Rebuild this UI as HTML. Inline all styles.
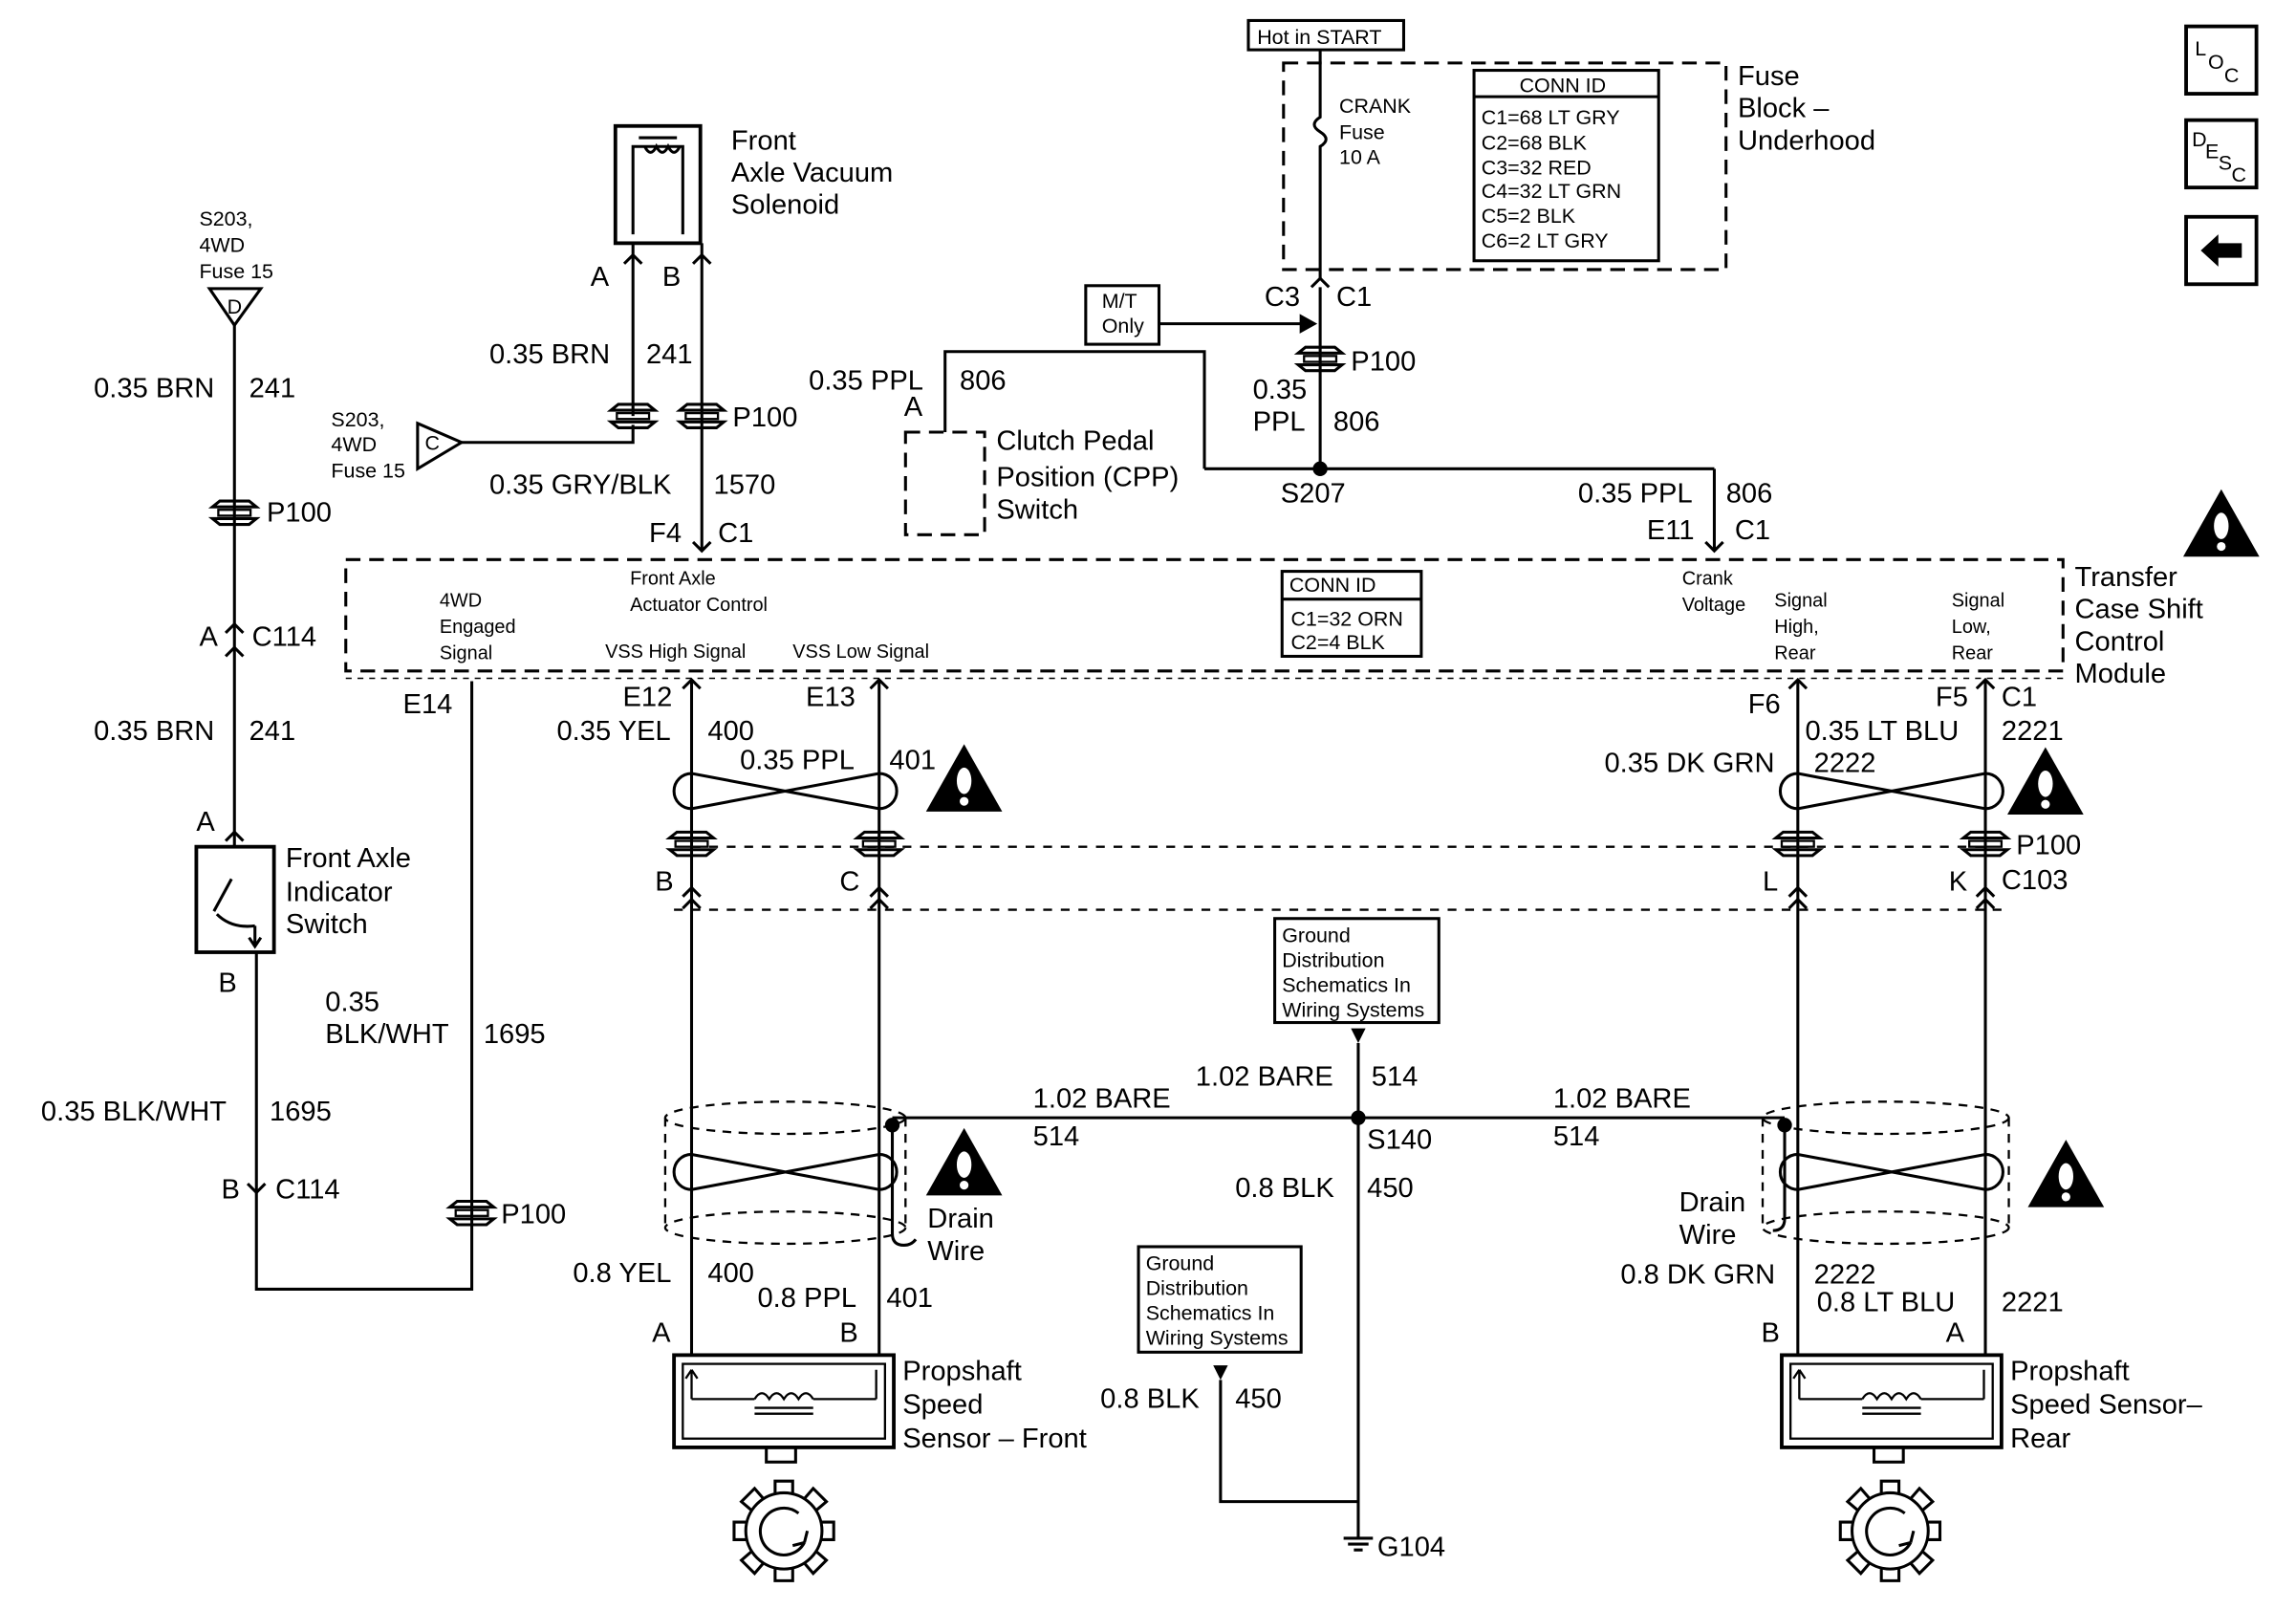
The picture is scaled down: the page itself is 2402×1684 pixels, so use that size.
<!DOCTYPE html>
<html><head><meta charset="utf-8"><style>
html,body{margin:0;padding:0;background:#fff;}
svg{display:block;}
text{font-family:"Liberation Sans",Arial,sans-serif;fill:#000;}
.m{font-size:19px;}
.s{font-size:14px;}
.xs{font-size:13px;}
</style></head><body>
<svg width="2402" height="1684" viewBox="0 0 1567 1099" preserveAspectRatio="none" xmlns="http://www.w3.org/2000/svg">
<defs>
<g id="conn"><path d="M-15,-4 L-10,-8 H10 L15,-4 H-15 Z M-15,4 L-10,8 H10 L15,4 H-15 Z" fill="none" stroke="#000" stroke-width="2"/><rect x="-11" y="-2" width="22" height="4" fill="none" stroke="#000" stroke-width="1.5"/></g>
<g id="twist"><path d="M-64,-12 L64,12 M-64,12 L64,-12 M-64,-12 A12,12 0 0 0 -64,12 M64,-12 A12,12 0 0 1 64,12" fill="none" stroke="#000" stroke-width="2"/></g>
<g id="warn"><path d="M26,0 L52,46 L0,46 Z" fill="#000"/><ellipse cx="26" cy="25" rx="5" ry="9" fill="#fff"/><circle cx="26" cy="39" r="3" fill="#fff"/></g>
<g id="gear"><circle r="26" fill="none" stroke="#000" stroke-width="2"/><path d="M-6,-26 V-34 H6 V-26 M-6,26 V34 H6 V26 M-26,-6 H-34 V6 H-26 M26,-6 H34 V6 H26 M-14,-22 L-20,-29 L-29,-20 L-22,-14 M14,-22 L20,-29 L29,-20 L22,-14 M-14,22 L-20,29 L-29,20 L-22,14 M14,22 L20,29 L29,20 L22,14" fill="none" stroke="#000" stroke-width="2"/><path d="M10,-12 A16,16 0 1 0 14,8" fill="none" stroke="#000" stroke-width="2"/><path d="M14,8 l-8,2 M14,8 l2,-8" stroke="#000" stroke-width="2"/></g>
<g id="sensor"><rect x="0" y="0" width="150" height="63" fill="none" stroke="#000" stroke-width="2.5"/><rect x="6" y="6" width="138" height="51" fill="none" stroke="#000" stroke-width="1.5"/><path d="M12,30 V10 M12,10 l-4,6 M12,10 l4,6 M138,30 V10 M12,30 H55 M95,30 H138 M55,30 q5,-8 10,0 q5,-8 10,0 q5,-8 10,0 q5,-8 10,0 M55,36 H95 M55,40 H95" fill="none" stroke="#000" stroke-width="1.5"/><rect x="63" y="63" width="20" height="10" fill="none" stroke="#000" stroke-width="2"/></g>
</defs>
<g stroke="#000" stroke-width="2" fill="none">
<rect x="852" y="14" width="106" height="20"/>
<rect x="876" y="43" width="302" height="141" stroke-dasharray="10,6"/>
<rect x="1006" y="48" width="126" height="130"/>
<line x1="1006" y1="66" x2="1132" y2="66"/>
<path d="M901,34 V80 q-8,5 0,10 q8,5 0,10 V190"/>
<path d="M895,196 L901,190 L907,196"/>
<line x1="901" y1="196" x2="901" y2="320"/>
<rect x="741" y="195" width="50" height="40"/>
<line x1="791" y1="221" x2="890" y2="221"/>
<path d="M888,216 L897,221 L888,226 Z" fill="#000"/>
<line x1="822" y1="320" x2="1170" y2="320"/>
<path d="M822,320 V240 H645 V295"/>
<line x1="1170" y1="320" x2="1170" y2="376"/>
<path d="M1164,370 L1170,376 L1176,370"/>
<rect x="618" y="295" width="54" height="70" stroke-dasharray="10,6"/>
<rect x="420" y="86" width="58" height="80" stroke-width="2.5"/>
<path d="M432,160 V100 H466 V160 M440,100 q4,8 8,0 q4,8 8,0 q4,8 8,0 M436,94 H462"/>
<path d="M432,166 V284 M479,166 V376 M426,180 L432,174 L438,180 M473,180 L479,174 L485,180"/>
<path d="M473,370 L479,376 L485,370"/>
<path d="M315,302 H432 V290"/>
<path d="M285,289 L315,302 L285,320 Z"/>
<path d="M143,197 H178 L160,222 Z"/>
<line x1="160" y1="222" x2="160" y2="578"/>
<path d="M154,432 L160,426 L166,432 M154,448 L160,442 L166,448 M154,574 L160,568 L166,574"/>
<rect x="134" y="578" width="53" height="72" stroke-width="2.5"/>
<path d="M146,622 L158,600 M148,624 q10,10 26,8 M174,632 V646 M170,640 L174,646 L178,640"/>
<path d="M175,650 V880 H322 V465"/>
<path d="M169,808 L175,814 L181,808"/>
<rect x="236" y="382" width="1172" height="76" stroke-dasharray="10,6"/>
<line x1="236" y1="463" x2="1408" y2="463" stroke-width="1" stroke-dasharray="4,4"/>
<rect x="875" y="390" width="95" height="58"/>
<line x1="875" y1="409" x2="970" y2="409"/>
<line x1="472" y1="465" x2="472" y2="925"/>
<line x1="600" y1="465" x2="600" y2="925"/>
<line x1="1227" y1="465" x2="1227" y2="925"/>
<line x1="1355" y1="465" x2="1355" y2="925"/>
<path d="M466,470 L472,464 L478,470 M594,470 L600,464 L606,470 M1221,470 L1227,464 L1233,470 M1349,470 L1355,464 L1361,470"/>
<path d="M466,612 L472,606 L478,612 M466,620 L472,614 L478,620 M594,612 L600,606 L606,612 M594,620 L600,614 L606,620 M1221,612 L1227,606 L1233,612 M1221,620 L1227,614 L1233,620 M1349,612 L1355,606 L1361,612 M1349,620 L1355,614 L1361,620"/>
<line x1="472" y1="578" x2="1355" y2="578" stroke-width="1.5" stroke-dasharray="6,6"/>
<line x1="460" y1="621" x2="1370" y2="621" stroke-width="1.5" stroke-dasharray="6,6"/>
<rect x="870" y="627" width="112" height="71"/>
<line x1="927" y1="712" x2="927" y2="1050"/>
<line x1="609" y1="763" x2="1218" y2="763"/>
<rect x="777" y="851" width="111" height="72"/>
<path d="M833,942 V1025 H927"/>
<path d="M917,1050 H937 M920,1054 H934 M924,1058 H930"/>
<g stroke-width="1.5" stroke-dasharray="6,5">
<ellipse cx="536" cy="763" rx="82" ry="11"/>
<ellipse cx="536" cy="838" rx="82" ry="11"/>
<line x1="454" y1="763" x2="454" y2="838"/>
<line x1="618" y1="763" x2="618" y2="838"/>
<ellipse cx="1287" cy="763" rx="84" ry="11"/>
<ellipse cx="1287" cy="838" rx="84" ry="11"/>
<line x1="1203" y1="763" x2="1203" y2="838"/>
<line x1="1371" y1="763" x2="1371" y2="838"/>
</g>
<path d="M609,768 V842 q0,8 8,8 q5,0 8,-4"/>
<path d="M1218,768 V832 q0,8 -8,8"/>
<rect x="1492" y="18" width="48" height="46" stroke-width="2.5"/>
<rect x="1492" y="82" width="48" height="46" stroke-width="2.5"/>
<rect x="1492" y="148" width="48" height="46" stroke-width="2.5"/>
</g>
<path d="M1502,171 L1514,160 V166 H1530 V176 H1514 V182 Z" fill="#000"/>
<path d="M833,942 L828,932 H838 Z M927,712 L922,702 H932 Z" fill="#000"/>
<circle cx="901" cy="320" r="5" fill="#000"/>
<circle cx="927" cy="763" r="5" fill="#000"/>
<circle cx="609" cy="768" r="5" fill="#000"/>
<circle cx="1218" cy="768" r="5" fill="#000"/>
<use href="#conn" x="901" y="245"/>
<use href="#conn" x="432" y="284"/>
<use href="#conn" x="479" y="284"/>
<use href="#conn" x="160" y="350"/>
<use href="#conn" x="322" y="828"/>
<use href="#conn" x="472" y="576"/>
<use href="#conn" x="600" y="576"/>
<use href="#conn" x="1227" y="576"/>
<use href="#conn" x="1355" y="576"/>
<use href="#twist" x="536" y="540"/>
<use href="#twist" x="1291" y="540"/>
<use href="#twist" x="536" y="800"/>
<use href="#twist" x="1291" y="800"/>
<use href="#warn" x="632" y="508"/>
<use href="#warn" x="1370" y="510"/>
<use href="#warn" x="1490" y="334"/>
<use href="#warn" x="632" y="770"/>
<use href="#warn" x="1384" y="778"/>
<use href="#sensor" x="460" y="925"/>
<use href="#sensor" x="1216" y="925"/>
<use href="#gear" x="535" y="1045"/>
<use href="#gear" x="1290" y="1045"/>
<text class="s" x="858" y="30">Hot in START</text>
<text class="s" x="1037" y="63">CONN ID</text>
<text class="s" x="1011" y="85">C1=68 LT GRY</text>
<text class="s" x="1011" y="102">C2=68 BLK</text>
<text class="s" x="1011" y="119">C3=32 RED</text>
<text class="s" x="1011" y="135">C4=32 LT GRN</text>
<text class="s" x="1011" y="152">C5=2 BLK</text>
<text class="s" x="1011" y="169">C6=2 LT GRY</text>
<text class="s" x="914" y="77">CRANK</text>
<text class="s" x="914" y="95">Fuse</text>
<text class="s" x="914" y="112">10 A</text>
<text class="m" x="1186" y="58">Fuse</text>
<text class="m" x="1186" y="80">Block –</text>
<text class="m" x="1186" y="102">Underhood</text>
<text class="m" x="863" y="209">C3</text>
<text class="m" x="912" y="209">C1</text>
<text class="s" x="752" y="210">M/T</text>
<text class="s" x="752" y="227">Only</text>
<text class="m" x="922" y="253">P100</text>
<text class="m" x="855" y="272">0.35</text>
<text class="m" x="855" y="294">PPL</text>
<text class="m" x="910" y="294">806</text>
<text class="m" x="874" y="343">S207</text>
<text class="m" x="552" y="266">0.35 PPL</text>
<text class="m" x="655" y="266">806</text>
<text class="m" x="617" y="284">A</text>
<text class="m" x="680" y="307">Clutch Pedal</text>
<text class="m" x="680" y="332">Position (CPP)</text>
<text class="m" x="680" y="354">Switch</text>
<text class="m" x="1077" y="343">0.35 PPL</text>
<text class="m" x="1178" y="343">806</text>
<text class="m" x="1124" y="368">E11</text>
<text class="m" x="1184" y="368">C1</text>
<text class="m" x="499" y="102">Front</text>
<text class="m" x="499" y="124">Axle Vacuum</text>
<text class="m" x="499" y="146">Solenoid</text>
<text class="m" x="403" y="195">A</text>
<text class="m" x="452" y="195">B</text>
<text class="m" x="334" y="248">0.35 BRN</text>
<text class="m" x="441" y="248">241</text>
<text class="m" x="500" y="291">P100</text>
<text class="s" x="226" y="291">S203,</text>
<text class="s" x="226" y="308">4WD</text>
<text class="s" x="226" y="326">Fuse 15</text>
<text class="s" x="290" y="307">C</text>
<text class="m" x="334" y="337">0.35 GRY/BLK</text>
<text class="m" x="487" y="337">1570</text>
<text class="m" x="443" y="370">F4</text>
<text class="m" x="490" y="370">C1</text>
<text class="s" x="136" y="154">S203,</text>
<text class="s" x="136" y="172">4WD</text>
<text class="s" x="136" y="190">Fuse 15</text>
<text class="s" x="155" y="214">D</text>
<text class="m" x="64" y="271">0.35 BRN</text>
<text class="m" x="170" y="271">241</text>
<text class="m" x="182" y="356">P100</text>
<text class="m" x="136" y="441">A</text>
<text class="m" x="172" y="441">C114</text>
<text class="m" x="64" y="505">0.35 BRN</text>
<text class="m" x="170" y="505">241</text>
<text class="m" x="134" y="567">A</text>
<text class="m" x="195" y="592">Front Axle</text>
<text class="m" x="195" y="615">Indicator</text>
<text class="m" x="195" y="637">Switch</text>
<text class="m" x="149" y="677">B</text>
<text class="m" x="222" y="690">0.35</text>
<text class="m" x="222" y="712">BLK/WHT</text>
<text class="m" x="330" y="712">1695</text>
<text class="m" x="28" y="765">0.35 BLK/WHT</text>
<text class="m" x="184" y="765">1695</text>
<text class="m" x="151" y="818">B</text>
<text class="m" x="188" y="818">C114</text>
<text class="m" x="342" y="835">P100</text>
<text class="xs" x="300" y="414">4WD</text>
<text class="xs" x="300" y="432">Engaged</text>
<text class="xs" x="300" y="450">Signal</text>
<text class="xs" x="430" y="399">Front Axle</text>
<text class="xs" x="430" y="417">Actuator Control</text>
<text class="xs" x="413" y="449">VSS High Signal</text>
<text class="xs" x="541" y="449">VSS Low Signal</text>
<text class="s" x="880" y="404">CONN ID</text>
<text class="s" x="881" y="427">C1=32 ORN</text>
<text class="s" x="881" y="443">C2=4 BLK</text>
<text class="xs" x="1148" y="399">Crank</text>
<text class="xs" x="1148" y="417">Voltage</text>
<text class="xs" x="1211" y="414">Signal</text>
<text class="xs" x="1211" y="432">High,</text>
<text class="xs" x="1211" y="450">Rear</text>
<text class="xs" x="1332" y="414">Signal</text>
<text class="xs" x="1332" y="432">Low,</text>
<text class="xs" x="1332" y="450">Rear</text>
<text class="m" x="1416" y="400">Transfer</text>
<text class="m" x="1416" y="422">Case Shift</text>
<text class="m" x="1416" y="444">Control</text>
<text class="m" x="1416" y="466">Module</text>
<text class="m" x="275" y="487">E14</text>
<text class="m" x="425" y="482">E12</text>
<text class="m" x="550" y="482">E13</text>
<text class="m" x="380" y="505">0.35 YEL</text>
<text class="m" x="483" y="505">400</text>
<text class="m" x="505" y="525">0.35 PPL</text>
<text class="m" x="607" y="525">401</text>
<text class="m" x="1193" y="487">F6</text>
<text class="m" x="1321" y="482">F5</text>
<text class="m" x="1366" y="482">C1</text>
<text class="m" x="1232" y="505">0.35 LT BLU</text>
<text class="m" x="1366" y="505">2221</text>
<text class="m" x="1095" y="527">0.35 DK GRN</text>
<text class="m" x="1238" y="527">2222</text>
<text class="m" x="1376" y="583">P100</text>
<text class="m" x="1366" y="607">C103</text>
<text class="m" x="447" y="608">B</text>
<text class="m" x="573" y="608">C</text>
<text class="m" x="1203" y="608">L</text>
<text class="m" x="1330" y="608">K</text>
<text class="s" x="875" y="643">Ground</text>
<text class="s" x="875" y="660">Distribution</text>
<text class="s" x="875" y="677">Schematics In</text>
<text class="s" x="875" y="694">Wiring Systems</text>
<text class="m" x="816" y="741">1.02 BARE</text>
<text class="m" x="936" y="741">514</text>
<text class="m" x="705" y="756">1.02 BARE</text>
<text class="m" x="705" y="782">514</text>
<text class="m" x="933" y="784">S140</text>
<text class="m" x="1060" y="756">1.02 BARE</text>
<text class="m" x="1060" y="782">514</text>
<text class="m" x="843" y="817">0.8 BLK</text>
<text class="m" x="933" y="817">450</text>
<text class="m" x="633" y="838">Drain</text>
<text class="m" x="633" y="860">Wire</text>
<text class="m" x="1146" y="827">Drain</text>
<text class="m" x="1146" y="849">Wire</text>
<text class="m" x="391" y="875">0.8 YEL</text>
<text class="m" x="483" y="875">400</text>
<text class="m" x="517" y="892">0.8 PPL</text>
<text class="m" x="605" y="892">401</text>
<text class="m" x="1106" y="876">0.8 DK GRN</text>
<text class="m" x="1238" y="876">2222</text>
<text class="m" x="1240" y="895">0.8 LT BLU</text>
<text class="m" x="1366" y="895">2221</text>
<text class="m" x="445" y="916">A</text>
<text class="m" x="573" y="916">B</text>
<text class="m" x="1202" y="916">B</text>
<text class="m" x="1328" y="916">A</text>
<text class="s" x="782" y="867">Ground</text>
<text class="s" x="782" y="884">Distribution</text>
<text class="s" x="782" y="901">Schematics In</text>
<text class="s" x="782" y="918">Wiring Systems</text>
<text class="m" x="751" y="961">0.8 BLK</text>
<text class="m" x="843" y="961">450</text>
<text class="m" x="940" y="1062">G104</text>
<text class="m" x="616" y="942">Propshaft</text>
<text class="m" x="616" y="965">Speed</text>
<text class="m" x="616" y="988">Sensor – Front</text>
<text class="m" x="1372" y="942">Propshaft</text>
<text class="m" x="1372" y="965">Speed Sensor–</text>
<text class="m" x="1372" y="988">Rear</text>
<text class="s" x="1498" y="38">L</text>
<text class="s" x="1507" y="47">O</text>
<text class="s" x="1518" y="56">C</text>
<text class="s" x="1496" y="100">D</text>
<text class="s" x="1505" y="108">E</text>
<text class="s" x="1514" y="116">S</text>
<text class="s" x="1523" y="124">C</text>
</svg>
</body></html>
